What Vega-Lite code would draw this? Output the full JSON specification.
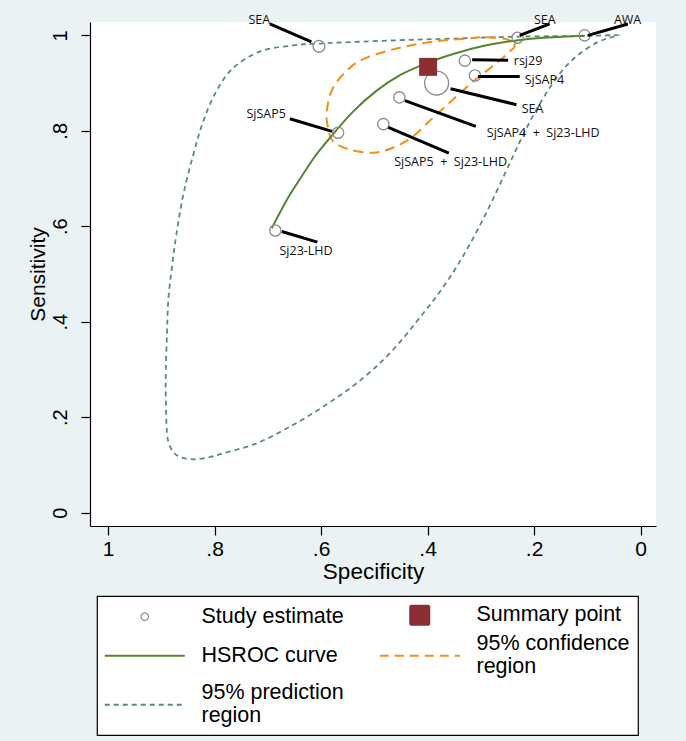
{
  "$schema": "https://vega.github.io/schema/vega-lite/v6.json",
  "width": 566,
  "height": 504,
  "autosize": "none",
  "padding": {"left": 90, "top": 22, "right": 30, "bottom": 215},
  "background": "#eaf2f3",
  "config": {
    "view": {"fill": "white", "stroke": null},
    "axis": {
      "grid": false,
      "domainColor": "black",
      "domainWidth": 1.2,
      "tickColor": "black",
      "tickWidth": 1.2,
      "tickSize": 9,
      "labelColor": "black",
      "titleColor": "black",
      "labelFont": "Liberation Sans",
      "titleFont": "Liberation Sans",
      "titleFontWeight": "normal"
    },
    "legend": {
      "orient": "none",
      "legendX": 7,
      "legendY": 574,
      "direction": "horizontal",
      "columns": 2,
      "columnPadding": 31,
      "rowPadding": 4,
      "padding": 8,
      "fillColor": "white",
      "strokeColor": "black",
      "strokeWidth": 1.2,
      "labelFont": "Liberation Sans",
      "labelFontSize": 21.5,
      "labelColor": "black",
      "labelLimit": 400,
      "symbolSize": 400,
      "symbolOffset": 29,
      "labelOffset": 46
    }
  },
  "datasets": {
    "studies": [
      {"name": "SEA", "spec": 0.604, "sens": 0.977, "w": 1.1, "series": "Study estimate"},
      {"name": "SEA", "spec": 0.231, "sens": 0.995, "w": 1, "series": "Study estimate"},
      {"name": "AWA", "spec": 0.105, "sens": 1.0, "w": 1, "series": "Study estimate"},
      {"name": "rsj29", "spec": 0.33, "sens": 0.947, "w": 1, "series": "Study estimate"},
      {"name": "SjSAP4", "spec": 0.311, "sens": 0.916, "w": 1, "series": "Study estimate"},
      {"name": "SEA", "spec": 0.383, "sens": 0.9, "w": 4.5, "series": "Study estimate"},
      {"name": "SjSAP4 + Sj23-LHD", "spec": 0.453, "sens": 0.87, "w": 1, "series": "Study estimate"},
      {"name": "SjSAP5 + Sj23-LHD", "spec": 0.483, "sens": 0.814, "w": 1, "series": "Study estimate"},
      {"name": "SjSAP5", "spec": 0.568, "sens": 0.796, "w": 1, "series": "Study estimate"},
      {"name": "Sj23-LHD", "spec": 0.686, "sens": 0.591, "w": 1, "series": "Study estimate"}
    ],
    "summary": [
      {"spec": 0.399, "sens": 0.934, "series": "Summary point"}
    ],
    "hsroc": [
      {"i": 1, "spec": 0.6925, "sens": 0.5962, "series": "HSROC curve"},
      {"i": 2, "spec": 0.6587, "sens": 0.666, "series": "HSROC curve"},
      {"i": 3, "spec": 0.6394, "sens": 0.6995, "series": "HSROC curve"},
      {"i": 4, "spec": 0.615, "sens": 0.741, "series": "HSROC curve"},
      {"i": 5, "spec": 0.577, "sens": 0.7938, "series": "HSROC curve"},
      {"i": 6, "spec": 0.5395, "sens": 0.8407, "series": "HSROC curve"},
      {"i": 7, "spec": 0.4956, "sens": 0.8842, "series": "HSROC curve"},
      {"i": 8, "spec": 0.4519, "sens": 0.9166, "series": "HSROC curve"},
      {"i": 9, "spec": 0.4019, "sens": 0.9416, "series": "HSROC curve"},
      {"i": 10, "spec": 0.3456, "sens": 0.9631, "series": "HSROC curve"},
      {"i": 11, "spec": 0.298, "sens": 0.9772, "series": "HSROC curve"},
      {"i": 12, "spec": 0.2395, "sens": 0.9884, "series": "HSROC curve"},
      {"i": 13, "spec": 0.1768, "sens": 0.9955, "series": "HSROC curve"},
      {"i": 14, "spec": 0.1052, "sens": 0.9994, "series": "HSROC curve"}
    ],
    "conf": [
      {"i": 1, "spec": 0.2363, "sens": 0.9769, "series": "95% confidence region"},
      {"i": 2, "spec": 0.2425, "sens": 0.9874, "series": "95% confidence region"},
      {"i": 3, "spec": 0.2644, "sens": 0.9945, "series": "95% confidence region"},
      {"i": 4, "spec": 0.3019, "sens": 0.9958, "series": "95% confidence region"},
      {"i": 5, "spec": 0.3268, "sens": 0.9931, "series": "95% confidence region"},
      {"i": 6, "spec": 0.39, "sens": 0.9868, "series": "95% confidence region"},
      {"i": 7, "spec": 0.4519, "sens": 0.9742, "series": "95% confidence region"},
      {"i": 8, "spec": 0.5143, "sens": 0.9533, "series": "95% confidence region"},
      {"i": 9, "spec": 0.5457, "sens": 0.9323, "series": "95% confidence region"},
      {"i": 10, "spec": 0.5775, "sens": 0.8904, "series": "95% confidence region"},
      {"i": 11, "spec": 0.5894, "sens": 0.8407, "series": "95% confidence region"},
      {"i": 12, "spec": 0.5869, "sens": 0.8065, "series": "95% confidence region"},
      {"i": 13, "spec": 0.5775, "sens": 0.7778, "series": "95% confidence region"},
      {"i": 14, "spec": 0.5457, "sens": 0.7604, "series": "95% confidence region"},
      {"i": 15, "spec": 0.5025, "sens": 0.7541, "series": "95% confidence region"},
      {"i": 16, "spec": 0.465, "sens": 0.7646, "series": "95% confidence region"},
      {"i": 17, "spec": 0.4275, "sens": 0.7883, "series": "95% confidence region"},
      {"i": 18, "spec": 0.39, "sens": 0.8275, "series": "95% confidence region"},
      {"i": 19, "spec": 0.3525, "sens": 0.8652, "series": "95% confidence region"},
      {"i": 20, "spec": 0.3145, "sens": 0.9036, "series": "95% confidence region"},
      {"i": 21, "spec": 0.2893, "sens": 0.9252, "series": "95% confidence region"},
      {"i": 22, "spec": 0.2644, "sens": 0.9475, "series": "95% confidence region"},
      {"i": 23, "spec": 0.2456, "sens": 0.9665, "series": "95% confidence region"}
    ],
    "pred": [
      {"i": 1, "spec": 0.0431, "sens": 1.0004, "series": "95% prediction region"},
      {"i": 2, "spec": 0.105, "sens": 0.9987, "series": "95% prediction region"},
      {"i": 3, "spec": 0.2325, "sens": 0.9973, "series": "95% prediction region"},
      {"i": 4, "spec": 0.3581, "sens": 0.9931, "series": "95% prediction region"},
      {"i": 5, "spec": 0.4519, "sens": 0.9899, "series": "95% prediction region"},
      {"i": 6, "spec": 0.5457, "sens": 0.9858, "series": "95% prediction region"},
      {"i": 7, "spec": 0.6188, "sens": 0.982, "series": "95% prediction region"},
      {"i": 8, "spec": 0.6525, "sens": 0.979, "series": "95% prediction region"},
      {"i": 9, "spec": 0.7144, "sens": 0.9665, "series": "95% prediction region"},
      {"i": 10, "spec": 0.765, "sens": 0.9317, "series": "95% prediction region"},
      {"i": 11, "spec": 0.7969, "sens": 0.8826, "series": "95% prediction region"},
      {"i": 12, "spec": 0.8213, "sens": 0.8197, "series": "95% prediction region"},
      {"i": 13, "spec": 0.8401, "sens": 0.7499, "series": "95% prediction region"},
      {"i": 14, "spec": 0.8588, "sens": 0.666, "series": "95% prediction region"},
      {"i": 15, "spec": 0.8719, "sens": 0.5822, "series": "95% prediction region"},
      {"i": 16, "spec": 0.88, "sens": 0.5157, "series": "95% prediction region"},
      {"i": 17, "spec": 0.8869, "sens": 0.446, "series": "95% prediction region"},
      {"i": 18, "spec": 0.8894, "sens": 0.3761, "series": "95% prediction region"},
      {"i": 19, "spec": 0.8916, "sens": 0.2992, "series": "95% prediction region"},
      {"i": 20, "spec": 0.8916, "sens": 0.2363, "series": "95% prediction region"},
      {"i": 21, "spec": 0.8894, "sens": 0.1665, "series": "95% prediction region"},
      {"i": 22, "spec": 0.8832, "sens": 0.1377, "series": "95% prediction region"},
      {"i": 23, "spec": 0.8719, "sens": 0.121, "series": "95% prediction region"},
      {"i": 24, "spec": 0.8551, "sens": 0.1136, "series": "95% prediction region"},
      {"i": 25, "spec": 0.8331, "sens": 0.1119, "series": "95% prediction region"},
      {"i": 26, "spec": 0.8082, "sens": 0.1168, "series": "95% prediction region"},
      {"i": 27, "spec": 0.7832, "sens": 0.1245, "series": "95% prediction region"},
      {"i": 28, "spec": 0.7206, "sens": 0.1455, "series": "95% prediction region"},
      {"i": 29, "spec": 0.6582, "sens": 0.1803, "series": "95% prediction region"},
      {"i": 30, "spec": 0.5957, "sens": 0.2222, "series": "95% prediction region"},
      {"i": 31, "spec": 0.5331, "sens": 0.2713, "series": "95% prediction region"},
      {"i": 32, "spec": 0.4707, "sens": 0.3342, "series": "95% prediction region"},
      {"i": 33, "spec": 0.4088, "sens": 0.4166, "series": "95% prediction region"},
      {"i": 34, "spec": 0.3638, "sens": 0.4837, "series": "95% prediction region"},
      {"i": 35, "spec": 0.3244, "sens": 0.5549, "series": "95% prediction region"},
      {"i": 36, "spec": 0.2869, "sens": 0.6346, "series": "95% prediction region"},
      {"i": 37, "spec": 0.2531, "sens": 0.7142, "series": "95% prediction region"},
      {"i": 38, "spec": 0.225, "sens": 0.7813, "series": "95% prediction region"},
      {"i": 39, "spec": 0.1988, "sens": 0.8379, "series": "95% prediction region"},
      {"i": 40, "spec": 0.1706, "sens": 0.8903, "series": "95% prediction region"},
      {"i": 41, "spec": 0.1425, "sens": 0.9323, "series": "95% prediction region"},
      {"i": 42, "spec": 0.1144, "sens": 0.9616, "series": "95% prediction region"},
      {"i": 43, "spec": 0.0825, "sens": 0.9847, "series": "95% prediction region"},
      {"i": 44, "spec": 0.0581, "sens": 0.9952, "series": "95% prediction region"}
    ],
    "leaders": [
      {"spec": 0.6182, "sens": 0.9862, "spec2": 0.6962, "sens2": 1.0239},
      {"spec": 0.2269, "sens": 1.0, "spec2": 0.1706, "sens2": 1.0239},
      {"spec": 0.0988, "sens": 1.0, "spec2": 0.0238, "sens2": 1.0239},
      {"spec": 0.3163, "sens": 0.949, "spec2": 0.2488, "sens2": 0.9476},
      {"spec": 0.3051, "sens": 0.914, "spec2": 0.2269, "sens2": 0.914},
      {"spec": 0.3568, "sens": 0.8883, "spec2": 0.2331, "sens2": 0.8547},
      {"spec": 0.4425, "sens": 0.8631, "spec2": 0.3094, "sens2": 0.8092},
      {"spec": 0.4738, "sens": 0.8071, "spec2": 0.36, "sens2": 0.7535},
      {"spec": 0.5794, "sens": 0.7987, "spec2": 0.6587, "sens2": 0.8254},
      {"spec": 0.6737, "sens": 0.5891, "spec2": 0.607, "sens2": 0.5669}
    ],
    "labels": [
      {"name": "SEA", "spec": 0.6957, "sens": 1.0314, "anchor": "right"},
      {"name": "SEA", "spec": 0.1797, "sens": 1.0329, "anchor": "center"},
      {"name": "AWA", "spec": 0.0244, "sens": 1.0329, "anchor": "center"},
      {"name": "rsj29", "spec": 0.2381, "sens": 0.9455, "anchor": "left"},
      {"name": "SjSAP4", "spec": 0.2175, "sens": 0.9065, "anchor": "left"},
      {"name": "SEA", "spec": 0.2231, "sens": 0.8463, "anchor": "left"},
      {"name": "SjSAP4 \u00a0+ \u00a0Sj23-LHD", "spec": 0.2888, "sens": 0.7945, "anchor": "left"},
      {"name": "SjSAP5 \u00a0+ \u00a0Sj23-LHD", "spec": 0.4626, "sens": 0.7338, "anchor": "left"},
      {"name": "SjSAP5", "spec": 0.6662, "sens": 0.8359, "anchor": "right"},
      {"name": "Sj23-LHD", "spec": 0.6282, "sens": 0.5472, "anchor": "center"}
    ]
  },
  "encoding": {
    "x": {
      "field": "spec",
      "type": "quantitative",
      "scale": {"domain": [-0.029, 1.034], "reverse": true, "nice": false, "zero": false},
      "axis": {
        "title": "Specificity",
        "values": [0, 0.2, 0.4, 0.6, 0.8, 1],
        "labelExpr": "replace(format(datum.value, '~g'), '0.', '.')",
        "labelFontSize": 21,
        "titleFontSize": 22.5,
        "labelPadding": 3,
        "titlePadding": 1
      }
    },
    "y": {
      "field": "sens",
      "type": "quantitative",
      "scale": {"domain": [-0.028, 1.028], "nice": false, "zero": false},
      "axis": {
        "title": "Sensitivity",
        "values": [0, 0.2, 0.4, 0.6, 0.8, 1],
        "labelExpr": "replace(format(datum.value, '~g'), '0.', '.')",
        "labelAngle": 270,
        "labelFontSize": 20,
        "titleFontSize": 21,
        "labelPadding": 11,
        "titlePadding": 2
      }
    }
  },
  "layer": [
    {
      "data": {"name": "pred"},
      "mark": {"type": "line", "interpolate": "cardinal-closed", "strokeWidth": 1.8, "strokeDash": [5, 4]},
      "encoding": {
        "order": {"field": "i", "type": "quantitative"},
        "color": {
          "field": "series",
          "type": "nominal",
          "scale": {
            "domain": ["Study estimate", "Summary point", "HSROC curve", "95% confidence region", "95% prediction region"],
            "range": ["#8a8a8a", "#8b2f35", "#55852e", "#f28e1c", "#5b8a7e"]
          },
          "legend": {
            "title": null,
            "labelExpr": "datum.label == '95% confidence region' ? ['95% confidence', 'region'] : datum.label == '95% prediction region' ? ['95% prediction', 'region'] : datum.label",
            "encode": {
              "symbols": {
                "update": {
                  "shape": {"signal": "datum.value == 'Study estimate' ? 'circle' : datum.value == 'Summary point' ? 'square' : 'M-4,0H4'"},
                  "size": {"signal": "datum.value == 'Study estimate' ? 55 : datum.value == 'Summary point' ? 361 : 400"},
                  "fill": {"signal": "datum.value == 'Summary point' ? '#8b2f35' : 'transparent'"},
                  "fillOpacity": {"signal": "datum.value == 'Summary point' ? 1 : 0"},
                  "stroke": {"signal": "datum.value == 'Study estimate' ? '#8a8a8a' : datum.value == 'Summary point' ? 'transparent' : datum.value == 'HSROC curve' ? '#55852e' : datum.value == '95% confidence region' ? '#f28e1c' : '#5b8a7e'"},
                  "strokeDash": {"signal": "datum.value == '95% confidence region' ? [9, 6] : datum.value == '95% prediction region' ? [5, 4] : [1, 0]"},
                  "strokeWidth": {"signal": "datum.value == 'Study estimate' ? 1.2 : 2"},
                  "opacity": {"value": 1}
                }
              },
              "labels": {
                "update": {
                  "lineHeight": {"value": 23},
                  "dy": {"signal": "indexof(datum.value, 'region') >= 0 ? -11.5 : 0"}
                }
              }
            }
          }
        }
      }
    },
    {
      "data": {"name": "conf"},
      "mark": {"type": "line", "interpolate": "cardinal-closed", "strokeWidth": 2, "strokeDash": [10, 6]},
      "encoding": {
        "order": {"field": "i", "type": "quantitative"},
        "color": {"field": "series", "type": "nominal"}
      }
    },
    {
      "data": {"name": "hsroc"},
      "mark": {"type": "line", "interpolate": "monotone", "strokeWidth": 2},
      "encoding": {
        "order": {"field": "i", "type": "quantitative"},
        "color": {"field": "series", "type": "nominal"}
      }
    },
    {
      "data": {"name": "studies"},
      "mark": {"type": "point", "shape": "circle", "filled": false, "strokeWidth": 1.3, "opacity": 1},
      "encoding": {
        "color": {"field": "series", "type": "nominal"},
        "size": {"field": "w", "type": "quantitative", "scale": {"domain": [0, 4.5], "range": [0, 573]}, "legend": null}
      }
    },
    {
      "data": {"name": "summary"},
      "mark": {"type": "square", "size": 324, "opacity": 1},
      "encoding": {
        "color": {"field": "series", "type": "nominal"}
      }
    },
    {
      "data": {"name": "leaders"},
      "mark": {"type": "rule", "color": "black", "strokeWidth": 3},
      "encoding": {
        "x2": {"field": "spec2"},
        "y2": {"field": "sens2"}
      }
    },
    {
      "data": {"name": "labels"},
      "transform": [{"filter": "datum.anchor == 'left'"}],
      "mark": {"type": "text", "align": "left", "baseline": "middle", "font": "Open Sans", "fontSize": 12.5, "color": "#111111"},
      "encoding": {"text": {"field": "name"}}
    },
    {
      "data": {"name": "labels"},
      "transform": [{"filter": "datum.anchor == 'right'"}],
      "mark": {"type": "text", "align": "right", "baseline": "middle", "font": "Open Sans", "fontSize": 12.5, "color": "#111111"},
      "encoding": {"text": {"field": "name"}}
    },
    {
      "data": {"name": "labels"},
      "transform": [{"filter": "datum.anchor == 'center'"}],
      "mark": {"type": "text", "align": "center", "baseline": "middle", "font": "Open Sans", "fontSize": 12.5, "color": "#111111"},
      "encoding": {"text": {"field": "name"}}
    }
  ]
}
